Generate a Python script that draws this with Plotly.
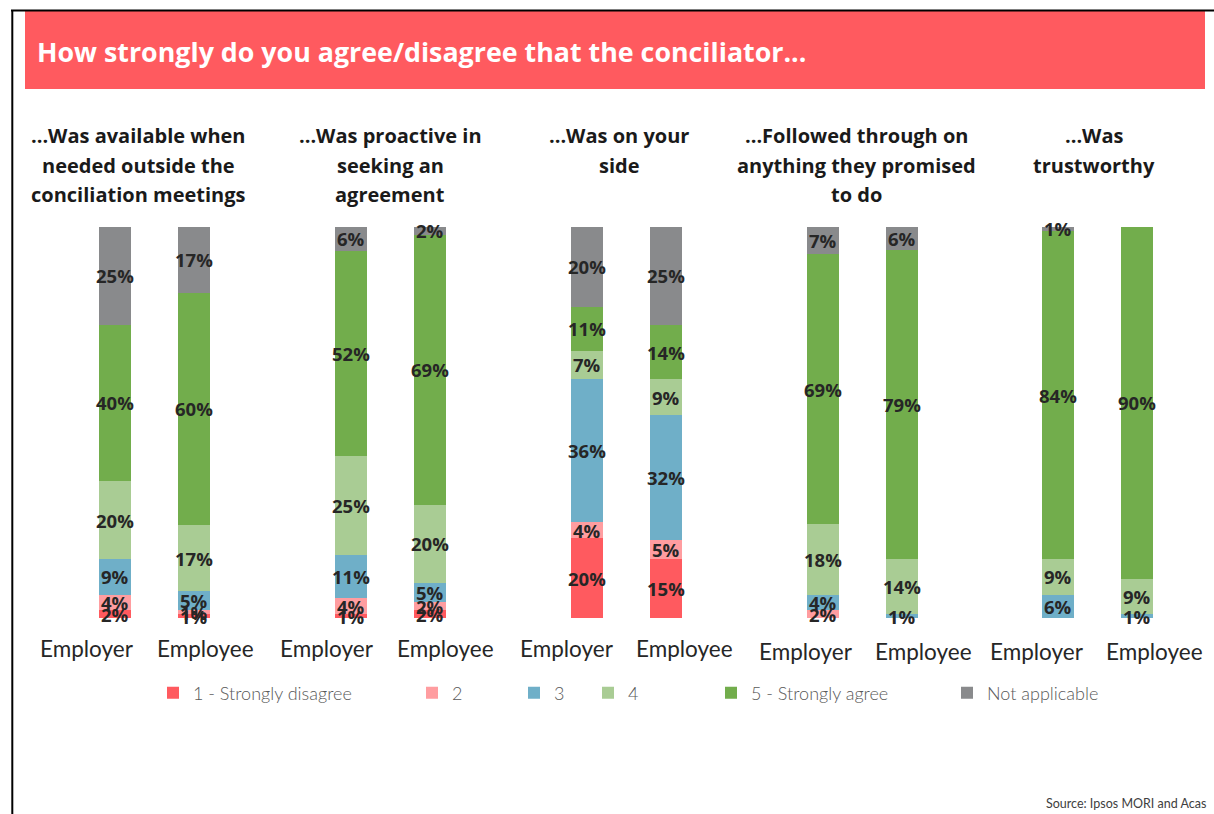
import plotly.graph_objects as go
from plotly.subplots import make_subplots

W, H = 1214, 814

# ---- data -------------------------------------------------------------
statements = [
    ["...Was available when", "needed outside the", "conciliation meetings"],
    ["...Was proactive in", "seeking an", "agreement"],
    ["...Was on your", "side"],
    ["...Followed through on", "anything they promised", "to do"],
    ["...Was", "trustworthy"],
]
respondents = ["Employer", "Employee"]
levels = ["1 - Strongly disagree", "2", "3", "4", "5 - Strongly agree", "Not applicable"]

# percentages per statement as [Employer, Employee]
strongly_disagree = [[2, 1], [1, 2], [20, 15], [0, 0], [0, 0]]
disagree = [[4, 1], [4, 2], [4, 5], [2, 0], [0, 0]]
neutral = [[9, 5], [11, 5], [36, 32], [4, 1], [6, 1]]
agree = [[20, 17], [25, 20], [7, 9], [18, 14], [9, 9]]
strongly_agree = [[40, 60], [52, 69], [11, 14], [69, 79], [84, 90]]
not_applicable = [[25, 17], [6, 2], [20, 25], [7, 6], [1, 0]]

series = [strongly_disagree, disagree, neutral, agree, strongly_agree, not_applicable]

# ---- styling ----------------------------------------------------------
level_colors = ["#FF5A5F", "#FF9DA0", "#6FAFC8", "#A9CC94", "#72AD4C", "#898A8C"]
BANNER = "#FF5A5F"
FONT = "Lato"
BOLD_FONT = "Open Sans"
INK = "#262626"


def px_x(x):
    return x / W


def px_y(y):
    return 1 - y / H


# centre of the Employer bar in each panel (pixels); Employee bar sits one step right
bar_left_centres = [115, 351, 587, 823, 1058]
STEP = 79
title_centres = [138, 390, 619, 856, 1094]
label_employer = [87, 327, 567, 806, 1037]
label_employee = [205, 445, 684, 923, 1154]
label_rows = [648, 648, 648, 651, 651]

fig = make_subplots(rows=1, cols=5, shared_yaxes=False)

for p in range(5):
    for k, name in enumerate(levels):
        vals = series[k][p]
        fig.add_trace(
            go.Bar(
                x=respondents,
                y=vals,
                name=name,
                marker=dict(color=level_colors[k], line=dict(width=0)),
                showlegend=(p == 0),
                legend="legend" if k == 0 else f"legend{k + 1}",
                hovertemplate="%{x}: %{y}%<extra>" + name + "</extra>",
            ),
            row=1,
            col=p + 1,
        )

layout_axes = {}
for p in range(5):
    c = bar_left_centres[p]
    dom = [px_x(c - STEP / 2), px_x(c + STEP * 1.5)]
    sfx = "" if p == 0 else str(p + 1)
    layout_axes[f"xaxis{sfx}"] = dict(
        domain=dom, range=[-0.5, 1.5], showticklabels=False, showgrid=False,
        zeroline=False, showline=False, ticks="", fixedrange=True,
    )
    layout_axes[f"yaxis{sfx}"] = dict(
        domain=[px_y(618), px_y(227)], range=[0, 100], showticklabels=False,
        showgrid=False, zeroline=False, showline=False, ticks="", fixedrange=True,
    )

fig.update_layout(**layout_axes)

annotations = []

# value labels centred on each stacked segment (columns are shown as 100%)
for p in range(5):
    sfx = "" if p == 0 else str(p + 1)
    for j, who in enumerate(respondents):
        column = [series[k][p][j] for k in range(len(levels))]
        total = sum(column)
        base = 0
        for v in column:
            if v > 0:
                annotations.append(dict(
                    text=f"{v}%", x=who, y=(base + v / 2) / total * 100,
                    xref=f"x{sfx}", yref=f"y{sfx}", xanchor="center", yanchor="middle",
                    showarrow=False,
                    font=dict(family=BOLD_FONT, size=18.5, color=INK, weight="bold"),
                ))
            base += v

# banner title
annotations.append(dict(
    text="How strongly do you agree/disagree that the conciliator...",
    x=px_x(35), y=px_y(51), xref="paper", yref="paper",
    xanchor="left", yanchor="middle", showarrow=False,
    font=dict(family=BOLD_FONT, size=26.8, color="white", weight="bold"),
))
# panel headings
for p, lines in enumerate(statements):
    for i, line in enumerate(lines):
        annotations.append(dict(
            text=line, x=px_x(title_centres[p]), y=px_y(135 + 30 * i),
            xref="paper", yref="paper", xanchor="center", yanchor="middle",
            showarrow=False,
            font=dict(family=BOLD_FONT, size=20, color="#1A1A1A", weight="bold"),
        ))
# respondent labels
for p in range(5):
    for xpos, lab in ((label_employer[p], respondents[0]), (label_employee[p], respondents[1])):
        annotations.append(dict(
            text=lab, x=px_x(xpos), y=px_y(label_rows[p]),
            xref="paper", yref="paper", xanchor="center", yanchor="middle",
            showarrow=False, font=dict(family=FONT, size=22.5, color=INK),
        ))
# source
annotations.append(dict(
    text="Source: Ipsos MORI and Acas", x=px_x(1208), y=px_y(803),
    xref="paper", yref="paper", xanchor="right", yanchor="middle",
    showarrow=False, font=dict(family=FONT, size=12.5, color="#404040"),
))

shapes = [
    dict(type="rect", xref="paper", yref="paper",
         x0=px_x(25), x1=px_x(1205), y0=px_y(89), y1=px_y(11),
         fillcolor=BANNER, line=dict(width=0), layer="below"),
    dict(type="line", xref="paper", yref="paper",
         x0=px_x(11), x1=1, y0=px_y(10.5), y1=px_y(10.5),
         line=dict(color="black", width=2)),
    dict(type="line", xref="paper", yref="paper",
         x0=px_x(12.3), x1=px_x(12.3), y0=0, y1=px_y(10),
         line=dict(color="black", width=2)),
]

# one legend box per response level so each can sit at its own position
legend_square_left = [169, 428, 530, 604, 727, 963]
legends = {}
for k, left in enumerate(legend_square_left):
    key = "legend" if k == 0 else f"legend{k + 1}"
    legends[key] = dict(
        x=px_x(left + 4 - 20), y=px_y(693), xanchor="left", yanchor="middle",
        orientation="h", bgcolor="rgba(0,0,0,0)", borderwidth=0,
        font=dict(family=FONT, size=18, color="#595959", weight=300),
        itemclick=False, itemdoubleclick=False,
    )

fig.update_layout(
    width=W, height=H,
    margin=dict(l=0, r=0, t=0, b=0),
    paper_bgcolor="white", plot_bgcolor="white",
    barmode="stack", barnorm="percent", bargap=0.595,
    annotations=annotations, shapes=shapes,
    **legends,
)

fig.write_html("out.html")
